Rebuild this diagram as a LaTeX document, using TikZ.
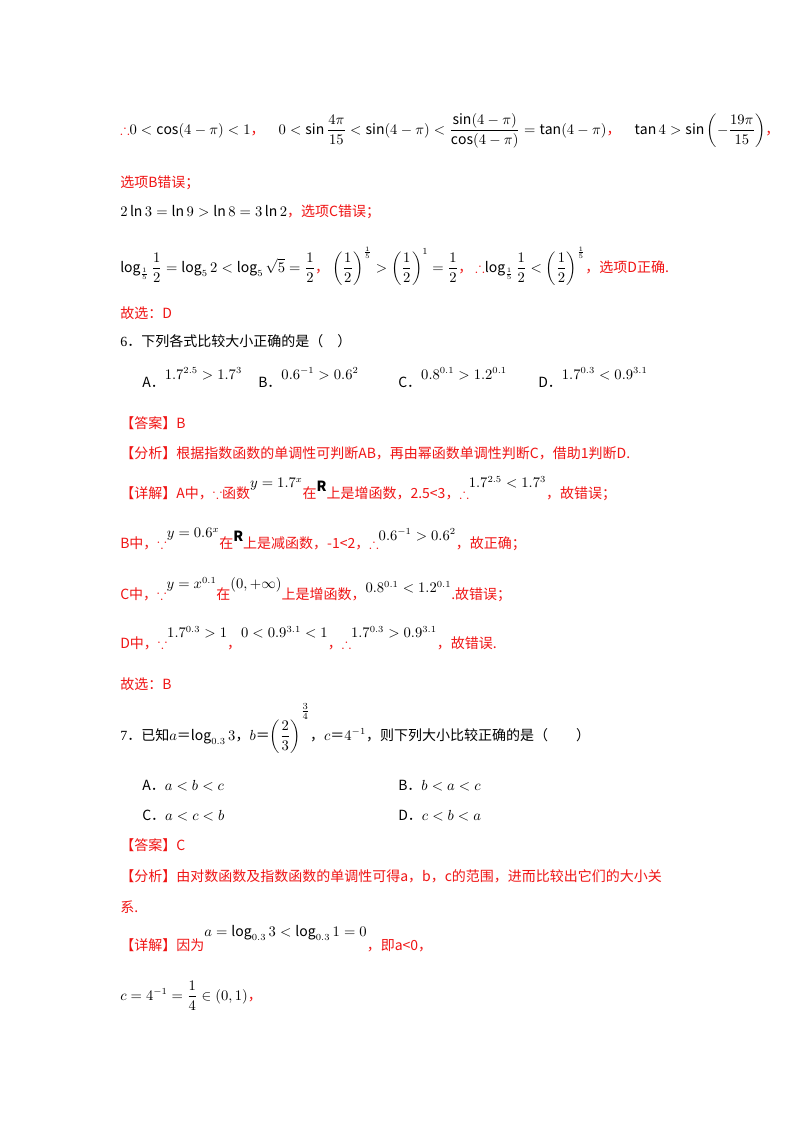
\documentclass[tikz,border=0pt]{standalone}
\usepackage{amsmath,amssymb}
\usepackage{fontspec}
\setmainfont{Noto Sans CJK SC}
\newfontfamily\ser{Liberation Serif}
\definecolor{myred}{RGB}{240,20,20}
\newcommand{\R}[1]{\textcolor{myred}{#1}}
\begin{document}
\begin{tikzpicture}[x=0.75pt,y=-0.75pt,
  ln/.style={anchor=base west,inner sep=0pt,font=\fontsize{10.5}{13}\selectfont}]
\useasboundingbox (0,0) rectangle (800,1132);
\fill[white] (0,0) rectangle (800,1132);
\node[ln] (l1) at (120,134) {\R{$\therefore$}$0<\cos(4-\pi)<1$\R{，}\quad
 $0<\sin\dfrac{4\pi}{15}<\sin(4-\pi)<\dfrac{\sin(4-\pi)}{\cos(4-\pi)}=\tan(4-\pi)$\R{，}\quad
 $\tan 4>\sin\left(-\dfrac{19\pi}{15}\right)$\R{，}};
\node[ln] (l2) at (120,187) {\R{选项B错误；}};
\node[ln] (l3) at (120,216) {$2\ln3=\ln9>\ln8=3\ln2$\R{，选项C错误；}};
\node[ln] (l4) at (120,272) {$\log_{\frac15}\dfrac12=\log_5 2<\log_5\sqrt5=\dfrac12$\R{，}
 $\left(\dfrac12\right)^{\frac15}>\left(\dfrac12\right)^{1}=\dfrac12$\R{，}
 \R{$\therefore$}$\log_{\frac15}\dfrac12<\left(\dfrac12\right)^{\frac15}$\R{，选项D正确.}};
\node[ln] (l5) at (120,318) {\R{故选：D}};
\node[ln] (q6) at (120,346) {{\ser 6}．下列各式比较大小正确的是（\quad ）};
\node[ln] (a6) at (142,387) {A．\raisebox{6pt}{$1.7^{2.5}>1.7^3$}};
\node[ln] (b6) at (258,387) {B．\raisebox{6pt}{$0.6^{-1}>0.6^2$}};
\node[ln] (c6) at (398,387) {C．\raisebox{6pt}{$0.8^{0.1}>1.2^{0.1}$}};
\node[ln] (d6) at (538,387) {D．\raisebox{6pt}{$1.7^{0.3}<0.9^{3.1}$}};
\node[ln] (ans6) at (120,428) {\R{【答案】B}};
\node[ln] (fx6) at (120,458) {\R{【分析】根据指数函数的单调性可判断AB，再由幂函数单调性判断C，借助1判断D.}};
\node[ln] (xj6) at (120,498) {\R{【详解】A中，$\because$函数}\raisebox{8pt}{$y=1.7^x$}\R{在}\raisebox{5pt}{$\mathbf R$}\R{上是增函数，2.5<3，$\therefore$}\raisebox{8pt}{$1.7^{2.5}<1.7^3$}\R{，故错误；}};
\node[ln] (b6x) at (120,548) {\R{B中，$\because$}\raisebox{8pt}{$y=0.6^x$}\R{在}\raisebox{5pt}{$\mathbf R$}\R{上是减函数，-1<2，$\therefore$}\raisebox{6pt}{$0.6^{-1}>0.6^2$}\R{，故正确；}};
\node[ln] (c6x) at (120,599) {\R{C中，$\because$}\raisebox{8pt}{$y=x^{0.1}$}\R{在}\raisebox{8pt}{$(0,+\infty)$}\R{上是增函数，}\raisebox{5pt}{$0.8^{0.1}<1.2^{0.1}$}\R{.故错误；}};
\node[ln] (d6x) at (120,648) {\R{D中，$\because$}\raisebox{8pt}{$1.7^{0.3}>1$}\R{，}\raisebox{8pt}{$0<0.9^{3.1}<1$}\R{，$\therefore$}\raisebox{8pt}{$1.7^{0.3}>0.9^{3.1}$}\R{，故错误.}};
\node[ln] (l6e) at (120,689) {\R{故选：B}};
\node[ln] (q7) at (120,740) {{\ser 7}．已知$a$＝$\log_{0.3}3$，$b$＝$\left(\dfrac23\right)^{\raisebox{6pt}{$\frac34$}}$，$c$＝$4^{-1}$，则下列大小比较正确的是（\qquad ）};
\node[ln] (a7) at (142,790) {A．$a<b<c$};
\node[ln] (b7) at (398,790) {B．$b<a<c$};
\node[ln] (c7) at (142,820) {C．$a<c<b$};
\node[ln] (d7) at (398,820) {D．$c<b<a$};
\node[ln] (ans7) at (120,850) {\R{【答案】C}};
\node[ln] (fx7) at (120,881) {\R{【分析】由对数函数及指数函数的单调性可得a，b，c的范围，进而比较出它们的大小关}};
\node[ln] (fx7b) at (120,912) {\R{系.}};
\node[ln] (xj7) at (120,950) {\R{【详解】因为}\raisebox{10pt}{$a=\log_{0.3}3<\log_{0.3}1=0$}\R{，即a<0，}};
\node[ln] (c7x) at (120,1000) {$c=4^{-1}=\dfrac14\in(0,1)$\R{，}};
\end{tikzpicture}
\end{document}
